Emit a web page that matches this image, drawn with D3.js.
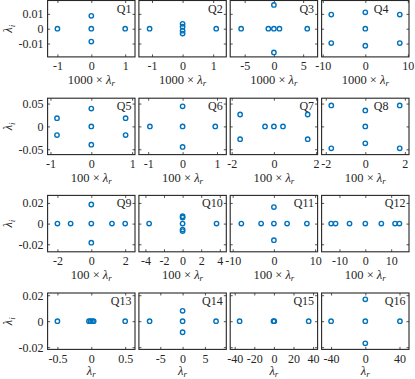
<!DOCTYPE html>
<html>
<head>
<meta charset="utf-8">
<script src="https://d3js.org/d3.v7.min.js"></script>
<style>
  body { margin: 0; background: #fff; }
  text { font-family: "Liberation Serif", "Times New Roman", serif; fill: #262626; }
</style>
</head>
<body>
<div id="chart"></div>
<script>
// eigenvalue points [lambda_r (scaled), lambda_i] per panel
const q1 = [[-1, 0], [0, 0.0087], [0, 0], [0, -0.0087], [1, 0]];
const q2 = [[-1.08, 0], [0, 0.0033], [0, 0.0013], [0, -0.0013], [0, -0.0033], [1.1, 0]];
const q3 = [[-5.6, 0], [-0.95, 0], [0, 0], [0.95, 0], [5.7, 0], [0, 0.016], [0, -0.016]];
const q4 = [[-8, 0.0095], [-8, -0.0097], [0, 0.011], [0, 0], [0, -0.0115], [8.1, 0.0095], [8.1, -0.0097]];
const q5 = [[-0.84, 0.018], [-0.84, -0.019], [0, 0.039], [0, 0], [0, -0.04], [0.84, 0.018], [0.84, -0.019]];
const q6 = [[-0.95, 0], [0, 0.044], [0, 0], [0, -0.045], [0.95, 0]];
const q7 = [[-1.6, 0.026], [-1.6, -0.028], [-0.42, 0], [0, 0], [0.43, 0], [1.6, 0.026], [1.6, -0.028]];
const q8 = [[-1.72, 0.046], [-1.72, -0.048], [0, 0.035], [0, 0], [0, -0.037], [1.74, 0.046], [1.74, -0.048]];
const q9 = [[-2, 0], [-1.22, 0], [0, 0.0185], [0, 0], [0, -0.0185], [1.22, 0], [2, 0]];
const q10 = [[-3.6, 0], [0, 0.0072], [0, 0.0058], [0, 0], [0, -0.0058], [0, -0.0072], [3.65, 0]];
const q11 = [[-7.9, 0], [-3.1, 0], [0, 0.016], [0, 0], [0, -0.016], [3.2, 0], [8, 0]];
const q12 = [[-13.2, 0], [-11.5, 0], [-6.1, 0], [0, 0], [6.2, 0], [11.5, 0], [13.2, 0]];
const q13 = [[-0.5, 0], [-0.035, 0], [-0.012, 0], [0.012, 0], [0.035, 0], [0.5, 0]];
const q14 = [[-7.4, 0], [0, 0.008], [0, 0], [0, -0.0085], [7.5, 0]];
const q15 = [[-35, 0], [-0.4, 0], [0.4, 0], [35.5, 0]];
const q16 = [[-40, 0], [0, 0.0168], [0, 0], [0, -0.017], [40.5, 0]];

const panelData = [q1, q2, q3, q4, q5, q6, q7, q8, q9, q10, q11, q12, q13, q14, q15, q16];
const panelNames = ["Q1", "Q2", "Q3", "Q4", "Q5", "Q6", "Q7", "Q8", "Q9", "Q10", "Q11", "Q12", "Q13", "Q14", "Q15", "Q16"];
const xLimits = [1.29, 1.43, 7.47, 10.27, 1.07, 1.27, 2.07, 2.21, 2.58, 4.7, 10.6, 16.9, 0.645, 9.8, 44.6, 51.1];
const xTicks = [
  [-1, 0, 1], [-1, 0, 1], [-5, 0, 5], [-10, 0, 10],
  [-1, 0, 1], [-1, 0, 1], [-2, 0, 2], [-2, 0, 2],
  [-2, 0, 2], [-4, -2, 0, 2, 4], [-10, 0, 10], [-10, 0, 10],
  [-0.5, 0, 0.5], [-5, 0, 5], [-40, -20, 0, 20, 40], [-40, 0, 40]
];
const yLimits = [0.019, 0.0617, 0.0273, 0.0217];
const yTicks = [[-0.01, 0, 0.01], [-0.05, 0, 0.05], [-0.02, 0, 0.02], [-0.02, 0, 0.02]];
const xLabelScale = ["1000", "100", "100", ""];

const width = 415, height = 379;
const colLeft = [47.6, 138.9, 230.2, 321.6];
const rowTop = [0.5, 98.2, 195.4, 293];
const pw = 87.4, ph = 56.4;
const axisColor = "#262626";
const markColor = "#0072BD";

const svg = d3.select("#chart").append("svg")
    .attr("width", width)
    .attr("height", height);

const fmt = v => String(v);

panelData.forEach((pts, i) => {
  const row = Math.floor(i / 4), col = i % 4;
  const x0 = colLeft[col], y0 = rowTop[row];

  const x = d3.scaleLinear().domain([-xLimits[i], xLimits[i]]).range([0, pw]);
  const y = d3.scaleLinear().domain([-yLimits[row], yLimits[row]]).range([ph, 0]);

  const g = svg.append("g").attr("transform", `translate(${x0},${y0})`);

  // axes with inward ticks on all four sides (box on)
  const axes = [
    d3.axisBottom(x).tickValues(xTicks[i]).tickSizeInner(-2.5).tickSizeOuter(0).tickFormat(fmt),
    d3.axisTop(x).tickValues(xTicks[i]).tickSizeInner(-2.5).tickSizeOuter(0).tickFormat(""),
    d3.axisLeft(y).tickValues(yTicks[row]).tickSizeInner(-2.5).tickSizeOuter(0).tickFormat(col === 0 ? fmt : ""),
    d3.axisRight(y).tickValues(yTicks[row]).tickSizeInner(-2.5).tickSizeOuter(0).tickFormat("")
  ];
  const placements = [`translate(0,${ph})`, "translate(0,0)", "translate(0,0)", `translate(${pw},0)`];
  axes.forEach((ax, k) => {
    const a = g.append("g").attr("transform", placements[k]).call(ax);
    a.select(".domain").remove();
    a.selectAll(".tick line").attr("stroke", axisColor).attr("stroke-width", 0.8);
    a.selectAll("text")
        .attr("fill", axisColor)
        .style("font-size", "12px")
        .style("font-family", "'Liberation Serif', serif");
    if (k === 0) a.selectAll("text").attr("y", 5).attr("dy", "0.71em");
    if (k === 2) a.selectAll("text").attr("x", -4);
  });

  g.append("rect")
      .attr("width", pw)
      .attr("height", ph)
      .attr("fill", "none")
      .attr("stroke", axisColor)
      .attr("stroke-width", 1.1);

  g.selectAll("circle.pt")
    .data(pts)
    .join("circle")
      .attr("class", "pt")
      .attr("cx", d => x(d[0]))
      .attr("cy", d => y(d[1]))
      .attr("r", 2.2)
      .attr("fill", "none")
      .attr("stroke", markColor)
      .attr("stroke-width", 1.4);

  // panel name sits where it avoids the markers
  g.append("text")
      .attr("x", col === 3 && row < 2 ? pw - 20.5 : pw - 3.5)
      .attr("y", 12)
      .attr("text-anchor", "end")
      .style("font-size", "12px")
      .text(panelNames[i]);

  // x label, e.g. 1000 × λr
  const xl = g.append("text")
      .attr("x", pw / 2)
      .attr("y", ph + (row === 3 ? 26 : 27))
      .attr("text-anchor", "middle")
      .style("font-size", "12.5px");
  if (xLabelScale[row]) xl.append("tspan").text(xLabelScale[row] + " \u00D7 ");
  xl.append("tspan").style("font-style", "italic").text("\u03BB");
  xl.append("tspan").style("font-style", "italic").style("font-size", "9px").attr("dy", 2).text("r");

  if (col === 0) {
    const yl = svg.append("text")
        .attr("transform", `translate(12,${y0 + ph / 2}) rotate(-90)`)
        .attr("text-anchor", "middle")
        .style("font-size", "12.5px");
    yl.append("tspan").style("font-style", "italic").text("\u03BB");
    yl.append("tspan").style("font-style", "italic").style("font-size", "9px").attr("dy", 2.5).text("i");
  }
});
</script>
</body>
</html>
